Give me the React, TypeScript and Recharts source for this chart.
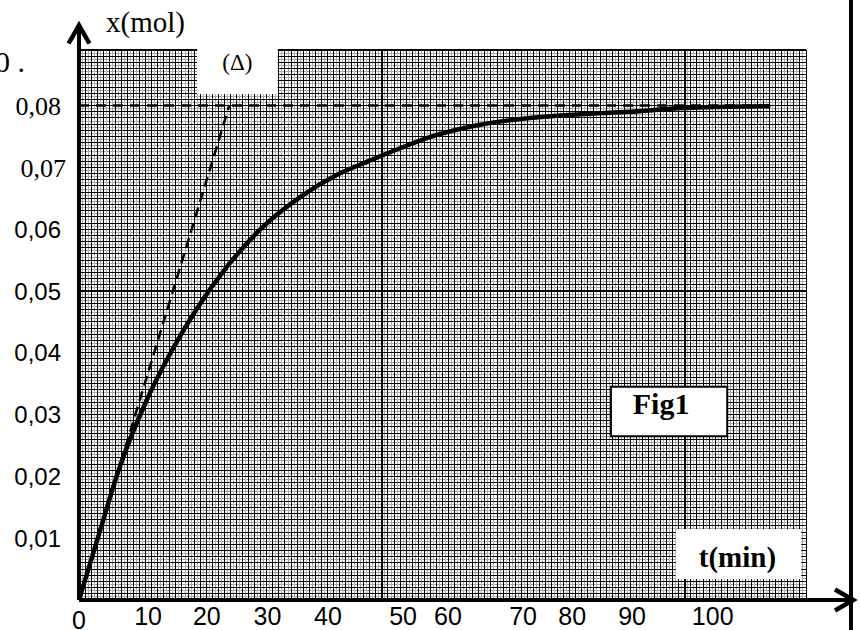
import React from 'react'
import { LineChart, Line, XAxis, YAxis, CartesianGrid, ReferenceLine, ReferenceArea } from 'recharts'

const SERIF = '"Liberation Serif", "Times New Roman", serif'
const SANS = '"Liberation Sans", Arial, sans-serif'

// x(t) curve (t in min, x in mol)
const tValues = [0, 3.5, 6.4, 11.2, 15.4, 19.5, 24.4, 30.4, 36.5, 42.6, 47.5, 53.0, 57.9, 66.2, 74.4, 82.7, 90.9, 99.7, 114.1]
const xValues = [0, 0.0113, 0.0206, 0.0324, 0.0405, 0.0472, 0.0539, 0.0604, 0.0652, 0.0688, 0.0709, 0.0731, 0.0749, 0.0769, 0.078, 0.0786, 0.079, 0.0796, 0.0799]

// tangent at the origin (Δ) and the asymptote x = 0,08
const tangentT = [0, 24.8]
const tangentX = [0, 0.08]
const asymT = [0, 114.2]
const asymX = [0.08, 0.08]

// tick labels as printed (the x labels sit a little off the grid on the scan)
const xTickPos = [0, 11.4, 21.1, 31.1, 41.1, 53.5, 60.9, 73.3, 81.4, 91.3, 104.6]
const xTickLabels = ['0', '10', '20', '30', '40', '50', '60', '70', '80', '90', '100']
const yTickPos = [0.01, 0.02, 0.03, 0.04, 0.05, 0.06, 0.07, 0.08]
const yTickLabels = ['0,01', '0,02', '0,03', '0,04', '0,05', '0,06', '0,07', '0,08']

const X_MAX = 120
const Y_MAX = 0.089

const curveData = tValues.map((t, i) => ({ t, x: xValues[i] }))
const tangentData = tangentT.map((t, i) => ({ t, x: tangentX[i] }))
const asymData = asymT.map((t, i) => ({ t, x: asymX[i] }))

// graph paper rulings
const steps = (n: number, step: number, start = 0) =>
  Array.from({ length: n }, (_, i) => +(start + i * step).toFixed(6))
const xHalf = steps(120, 1, 0.5)
const xMm = steps(121, 1)
const xBig = [50, 100]
const yHalf = steps(89, 0.001, 0.0005)
const yMm = steps(90, 0.001)
const yBig = [0.05]

// vertical rulings through the axis scale
const verticalFrom = (xs: number[]) => (p: any) => {
  const s = p?.xAxis?.scale
  return xs.map((v) => {
    if (typeof s === 'function') return s(v)
    if (s && typeof s.map === 'function') return s.map(v)
    return p.offset.left + (v / X_MAX) * p.offset.width
  })
}

function XTick(props: any) {
  const { x, y, payload } = props
  const i = xTickPos.indexOf(payload.value)
  return (
    <text x={x} y={y + (i === 0 ? 29 : 25)} textAnchor="middle" fontFamily={SANS} fontSize={25} fill="#000">
      {xTickLabels[i]}
    </text>
  )
}

function YTick(props: any) {
  const { x, y, payload } = props
  const i = yTickPos.indexOf(payload.value)
  const serif = payload.value >= 0.07
  const shift = payload.value === 0.07 ? 5 : 0
  return (
    <text x={x + shift} y={y} dy="0.36em" textAnchor="end" fontFamily={serif ? SERIF : SANS} fontSize={serif ? 26 : 24} fill="#000">
      {yTickLabels[i]}
    </text>
  )
}

function AxisArrow(props: any) {
  const { x1, y1, x2, y2 } = props
  const a = Math.atan2(y2 - y1, x2 - x1)
  const len = 21
  const spread = 0.52
  const p = (s: number) => `${x2 - len * Math.cos(a + s)},${y2 - len * Math.sin(a + s)}`
  return (
    <g>
      <line x1={x1} y1={y1} x2={x2} y2={y2} stroke="#000" strokeWidth={4} />
      <polyline points={`${p(-spread)} ${x2},${y2} ${p(spread)}`} fill="none" stroke="#000" strokeWidth={4.5} />
    </g>
  )
}

const boxLabel = (text: string, size: number, bold: boolean, dx: number, dy: number) => (props: any) => {
  const vb = props.viewBox || {}
  return (
    <text
      x={vb.x + vb.width / 2 + dx}
      y={vb.y + vb.height / 2 + dy}
      textAnchor="middle"
      fontFamily={SERIF}
      fontSize={size}
      fontWeight={bold ? 'bold' : 'normal'}
      fill="#000"
    >
      {text}
    </text>
  )
}

const gridLayers = [
  { id: 'half', xs: xHalf, ys: yHalf, stroke: '#ababab', width: 1 },
  { id: 'mm', xs: xMm, ys: yMm, stroke: '#000', width: 1 },
  { id: 'big', xs: xBig, ys: yBig, stroke: '#000', width: 2 },
]

export default function App() {
  return (
    <div style={{ position: 'absolute', left: 0, top: 0, width: 860, height: 630, background: '#fff', overflow: 'hidden' }}>
      <LineChart width={860} height={630} margin={{ top: 50, right: 54, bottom: 0, left: 0 }}>
        {gridLayers.map((g) => (
          <XAxis key={'x' + g.id} xAxisId={g.id} type="number" domain={[0, X_MAX]} ticks={g.xs} interval={0} allowDataOverflow hide />
        ))}
        {gridLayers.map((g) => (
          <YAxis key={'y' + g.id} yAxisId={g.id} type="number" domain={[0, Y_MAX]} ticks={g.ys} interval={0} allowDataOverflow hide />
        ))}
        <XAxis
          dataKey="t"
          type="number"
          domain={[0, X_MAX]}
          ticks={xTickPos}
          interval={0}
          allowDataOverflow
          axisLine={false}
          tickLine={false}
          tickSize={0}
          tickMargin={0}
          height={30}
          tick={<XTick />}
        />
        <YAxis
          type="number"
          domain={[0, Y_MAX]}
          ticks={yTickPos}
          interval={0}
          allowDataOverflow
          axisLine={false}
          tickLine={false}
          tickSize={0}
          tickMargin={18}
          width={79}
          tick={<YTick />}
        />
        {gridLayers.map((g) => (
          <CartesianGrid
            key={'g' + g.id}
            xAxisId={g.id}
            yAxisId={g.id}
            verticalCoordinatesGenerator={verticalFrom(g.xs)}
            stroke={g.stroke}
            strokeWidth={g.width}
            strokeOpacity={1}
            shapeRendering="crispEdges"
          />
        ))}
        <ReferenceArea x1={19.5} x2={32.8} y1={0.0819} y2={0.0895} fill="#fff" fillOpacity={1} stroke="none" ifOverflow="visible" label={boxLabel('(Δ)', 23, false, 0, 0)} />
        <ReferenceArea x1={87.8} x2={107} y1={0.0265} y2={0.0345} fill="#fff" fillOpacity={1} stroke="#000" strokeWidth={2} ifOverflow="visible" label={boxLabel('Fig1', 30, true, -8, 2.5)} />
        <ReferenceArea x1={98.5} x2={119.2} y1={0.0034} y2={0.0115} fill="#fff" fillOpacity={1} stroke="none" ifOverflow="visible" label={boxLabel('t(min)', 29, true, -1, 13)} />
        <Line data={asymData} dataKey="x" type="linear" stroke="#000" strokeWidth={2.5} strokeDasharray="10 7" dot={false} isAnimationActive={false} />
        <Line data={tangentData} dataKey="x" type="linear" stroke="#000" strokeWidth={2.5} strokeDasharray="10 6" dot={false} isAnimationActive={false} />
        <Line data={curveData} dataKey="x" type="monotone" stroke="#000" strokeWidth={4.5} dot={false} isAnimationActive={false} />
        <ReferenceLine segment={[{ x: 0, y: 0 }, { x: 0, y: 0.093 }]} ifOverflow="visible" shape={AxisArrow} />
        <ReferenceLine segment={[{ x: 0, y: 0 }, { x: 127.8, y: 0 }]} ifOverflow="visible" shape={AxisArrow} />
      </LineChart>
      <svg width={860} height={630} style={{ position: 'absolute', left: 0, top: 0, pointerEvents: 'none' }}>
        <text x={106} y={32} fontFamily={SERIF} fontSize={29} fill="#000">x(mol)</text>
        <text x={-5} y={72} fontFamily={SERIF} fontSize={30} fill="#000">0 .</text>
      </svg>
      <div style={{ position: 'absolute', left: 849, top: 0, width: 4, height: 630, background: '#000' }} />
    </div>
  )
}
